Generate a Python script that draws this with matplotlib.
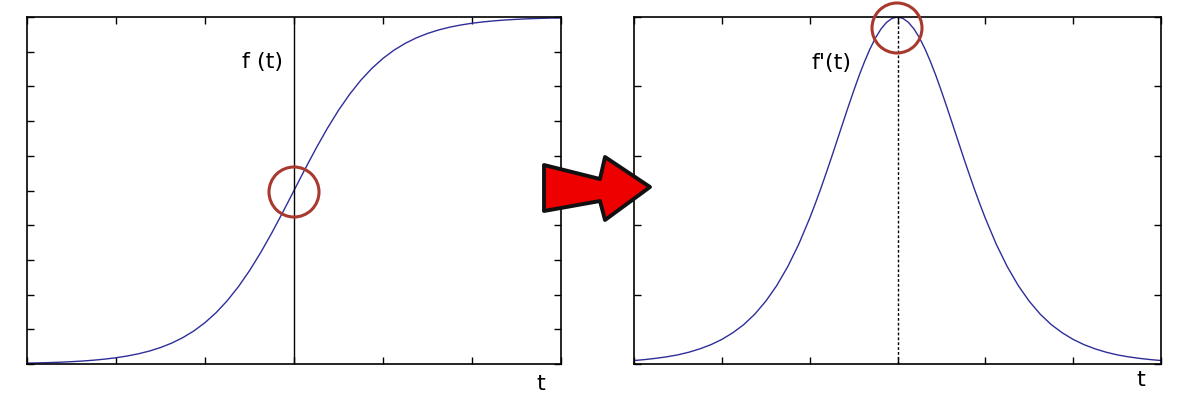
import matplotlib
matplotlib.use("Agg")
import matplotlib.pyplot as plt
from matplotlib.patches import Polygon, Ellipse

# ---- data ----
t = [-6.0, -5.75, -5.5, -5.25, -5.0, -4.75, -4.5, -4.25, -4.0, -3.75, -3.5, -3.25,
     -3.0, -2.75, -2.5, -2.25, -2.0, -1.75, -1.5, -1.25, -1.0, -0.75, -0.5, -0.25,
     0.0, 0.25, 0.5, 0.75, 1.0, 1.25, 1.5, 1.75, 2.0, 2.25, 2.5, 2.75,
     3.0, 3.25, 3.5, 3.75, 4.0, 4.25, 4.5, 4.75, 5.0, 5.25, 5.5, 5.75, 6.0]

f_vals = [0.0025, 0.0032, 0.0041, 0.0052, 0.0067, 0.0086, 0.0110, 0.0141, 0.0180,
          0.0230, 0.0293, 0.0373, 0.0474, 0.0601, 0.0759, 0.0953, 0.1192, 0.1480,
          0.1824, 0.2227, 0.2689, 0.3208, 0.3775, 0.4378, 0.5000, 0.5622, 0.6225,
          0.6792, 0.7311, 0.7773, 0.8176, 0.8520, 0.8808, 0.9047, 0.9241, 0.9399,
          0.9526, 0.9627, 0.9707, 0.9770, 0.9820, 0.9859, 0.9890, 0.9914, 0.9933,
          0.9948, 0.9959, 0.9968, 0.9975]

t_d = [-6.0, -5.75, -5.5, -5.25, -5.0, -4.75, -4.5, -4.25, -4.0, -3.75, -3.5, -3.25,
       -3.0, -2.75, -2.5, -2.25, -2.0, -1.875, -1.75, -1.625, -1.5, -1.375, -1.25,
       -1.125, -1.0, -0.875, -0.75, -0.625, -0.5, -0.375, -0.25, -0.125,
       0.0, 0.125, 0.25, 0.375, 0.5, 0.625, 0.75, 0.875, 1.0, 1.125, 1.25, 1.375,
       1.5, 1.625, 1.75, 1.875, 2.0, 2.25, 2.5, 2.75,
       3.0, 3.25, 3.5, 3.75, 4.0, 4.25, 4.5, 4.75, 5.0, 5.25, 5.5, 5.75, 6.0]

df_vals = [0.0025, 0.0032, 0.0041, 0.0052, 0.0066, 0.0085, 0.0109, 0.0139, 0.0177,
           0.0225, 0.0284, 0.0359, 0.0452, 0.0565, 0.0701, 0.0862, 0.1050, 0.1153,
           0.1261, 0.1375, 0.1491, 0.1611, 0.1731, 0.1850, 0.1966, 0.2077, 0.2179,
           0.2271, 0.2350, 0.2414, 0.2461, 0.2490,
           0.2500, 0.2490, 0.2461, 0.2414, 0.2350, 0.2271, 0.2179, 0.2077, 0.1966,
           0.1850, 0.1731, 0.1611, 0.1491, 0.1375, 0.1261, 0.1153, 0.1050, 0.0862,
           0.0701, 0.0565, 0.0452, 0.0359, 0.0284, 0.0225, 0.0177, 0.0139, 0.0109,
           0.0085, 0.0066, 0.0052, 0.0041, 0.0032, 0.0025]

x_ticks = [-6, -4, -2, 0, 2, 4, 6]
left_y_ticks = [0.0, 0.1, 0.2, 0.3, 0.4, 0.5, 0.6, 0.7, 0.8, 0.9, 1.0]
right_y_ticks = [0.0, 0.05, 0.10, 0.15, 0.20, 0.25]

left_label = "f (t)"
right_label = "f'(t)"
axis_label = "t"

# ---- figure ----
W, H = 1200, 400
fig = plt.figure(figsize=(12, 4), dpi=100)
fig.patch.set_facecolor("white")
plt.rcParams['font.family'] = ['DejaVu Sans']

curve_color = "#2e2e9a"
circle_color = "#a8392f"


def style(ax, yticks):
    ax.set_xlim(-6, 6)
    ax.set_xticks(x_ticks)
    ax.set_yticks(yticks)
    ax.tick_params(direction="in", length=5, width=1, top=True, right=True,
                   labelbottom=False, labelleft=False)
    for s in ax.spines.values():
        s.set_linewidth(1.2)
        s.set_color("black")


axL = fig.add_axes([27 / W, 1 - 364 / H, 534 / W, 347 / H])
axL.plot(t, f_vals, color=curve_color, lw=1)
axL.set_ylim(0, 1)
axL.axvline(0, color="black", lw=1)
style(axL, left_y_ticks)

axR = fig.add_axes([634 / W, 1 - 364 / H, 527 / W, 347 / H])
axR.plot(t_d, df_vals, color=curve_color, lw=1)
axR.set_ylim(0, 0.25)
axR.axvline(0, color="black", lw=1, linestyle=(0, (2, 1.5)))
style(axR, right_y_ticks)

# labels
fig.text(262 / W, 1 - 62 / H, left_label, fontsize=16, ha="center", va="center")
fig.text(831 / W, 1 - 63 / H, right_label, fontsize=16, ha="center", va="center")
fig.text(541 / W, 1 - 384 / H, axis_label, fontsize=16, ha="center", va="center")
fig.text(1141 / W, 1 - 380 / H, axis_label, fontsize=16, ha="center", va="center")

# highlight circles
for cx, cy, r in [(294, 192, 25), (897, 28, 25)]:
    e = Ellipse((cx / W, 1 - cy / H), 2 * r / W, 2 * r / H, transform=fig.transFigure,
                fill=False, edgecolor=circle_color, lw=2.2, zorder=10)
    fig.add_artist(e)

# big red arrow
arrow_px = [(544, 165), (600, 179), (605, 157), (650, 187), (605, 220), (600, 201), (544, 211)]
arrow = Polygon([(x / W, 1 - y / H) for x, y in arrow_px], closed=True,
                transform=fig.transFigure, facecolor="#ee0000", edgecolor="#111111",
                lw=2.8, joinstyle="round", zorder=10)
fig.add_artist(arrow)

fig.savefig("out.png", dpi=100, facecolor="white")
